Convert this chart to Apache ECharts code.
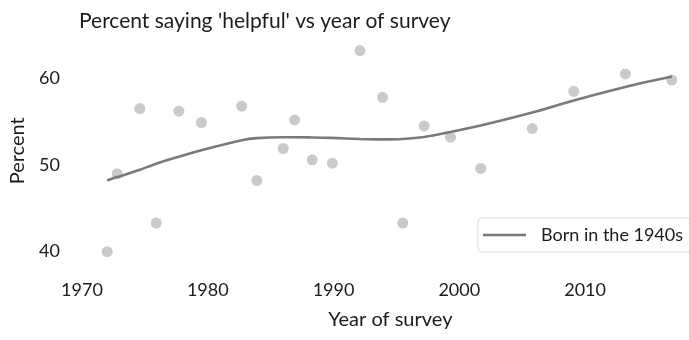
<!DOCTYPE html>
<html>
<head>
<meta charset="utf-8">
<script src="https://cdn.jsdelivr.net/npm/echarts@6/dist/echarts.min.js"></script>
<style>
  html, body { margin: 0; padding: 0; background: #fff; }
  #chart { width: 689px; height: 340px; }
</style>
</head>
<body>
<div id="chart"></div>
<script>
// Survey year (x) and percent answering "helpful" (y), one point per survey wave
const surveyYears = [1972.0, 1972.8, 1974.6, 1975.9, 1977.7, 1979.5, 1982.7, 1983.9, 1986.0, 1986.9, 1988.3,
                     1989.9, 1992.1, 1993.9, 1995.5, 1997.2, 1999.3, 2001.7, 2005.8, 2009.1, 2013.2, 2016.9];
const percentHelpful = [40.0, 49.0, 56.5, 43.3, 56.2, 54.9, 56.8, 48.2, 51.9, 55.2, 50.6,
                        50.2, 63.2, 57.8, 43.3, 54.5, 53.2, 49.6, 54.2, 58.5, 60.5, 59.8];
// Smoothed trend evaluated at the same survey years
const smoothedPercent = [48.2, 48.6, 49.45, 50.15, 50.95, 51.7, 52.85, 53.1, 53.2, 53.2, 53.17,
                         53.12, 53.0, 52.95, 53.0, 53.22, 53.8, 54.55, 56.05, 57.44, 59.0, 60.2];
const xTicks = [1970, 1980, 1990, 2000, 2010];
const yTicks = [40, 50, 60];
const cohortName = 'Born in the 1940s';

const FONT = 'Lato';
const TEXT = '#1c1c1c';
const TREND = '#7a7a7a';

const chart = echarts.init(document.getElementById('chart'), null, { renderer: 'canvas' });

chart.setOption({
  animation: false,
  backgroundColor: '#fff',
  textStyle: { fontFamily: FONT },
  title: {
    text: "Percent saying 'helpful' vs year of survey",
    left: 74,
    top: 6,
    textStyle: { fontFamily: FONT, fontSize: 21, fontWeight: 'normal', color: TEXT }
  },
  grid: { left: 81.9, right: 3.3, top: 43.6, bottom: 71 },
  legend: {
    data: [{ name: cohortName, icon: 'rect' }],
    left: 478,
    top: 218,
    padding: [8, 8, 8, 5],
    itemWidth: 43,
    itemHeight: 2.6,
    itemStyle: { color: TREND },
    borderColor: '#dcdcdc',
    borderWidth: 1,
    borderRadius: 4,
    backgroundColor: '#fff',
    textStyle: { fontFamily: FONT, fontSize: 18, color: TEXT, padding: [0, 0, 0, 10], lineHeight: 18 }
  },
  xAxis: {
    type: 'value',
    min: 1970,
    max: 2018,
    name: 'Year of survey',
    nameLocation: 'middle',
    nameGap: 41,
    nameTextStyle: { fontFamily: FONT, fontSize: 20, color: TEXT, padding: [0, 0, 0, 13] },
    axisLine: { show: false },
    axisTick: { show: false },
    splitLine: { show: false },
    axisLabel: {
      fontFamily: FONT, fontSize: 18, color: TEXT, margin: 12,
      customValues: xTicks,
      formatter: v => String(v)
    }
  },
  yAxis: {
    type: 'value',
    min: 38,
    max: 64,
    name: 'Percent',
    nameLocation: 'middle',
    nameGap: 54,
    nameTextStyle: { fontFamily: FONT, fontSize: 20, color: TEXT, padding: [0, 0, 0, 11] },
    axisLine: { show: false },
    axisTick: { show: false },
    splitLine: { show: false },
    axisLabel: {
      fontFamily: FONT, fontSize: 18, color: TEXT, margin: 22,
      customValues: yTicks
    }
  },
  series: [
    {
      name: 'survey',
      type: 'scatter',
      symbolSize: 11,
      itemStyle: { color: '#bdbdbd' },
      data: surveyYears.map((yr, i) => [yr, percentHelpful[i]]),
      z: 2
    },
    {
      name: cohortName,
      type: 'line',
      smooth: 0.3,
      symbol: 'none',
      lineStyle: { color: TREND, width: 2.6 },
      itemStyle: { color: TREND },
      data: surveyYears.map((yr, i) => [yr, smoothedPercent[i]]),
      z: 3
    }
  ]
});
</script>
</body>
</html>
